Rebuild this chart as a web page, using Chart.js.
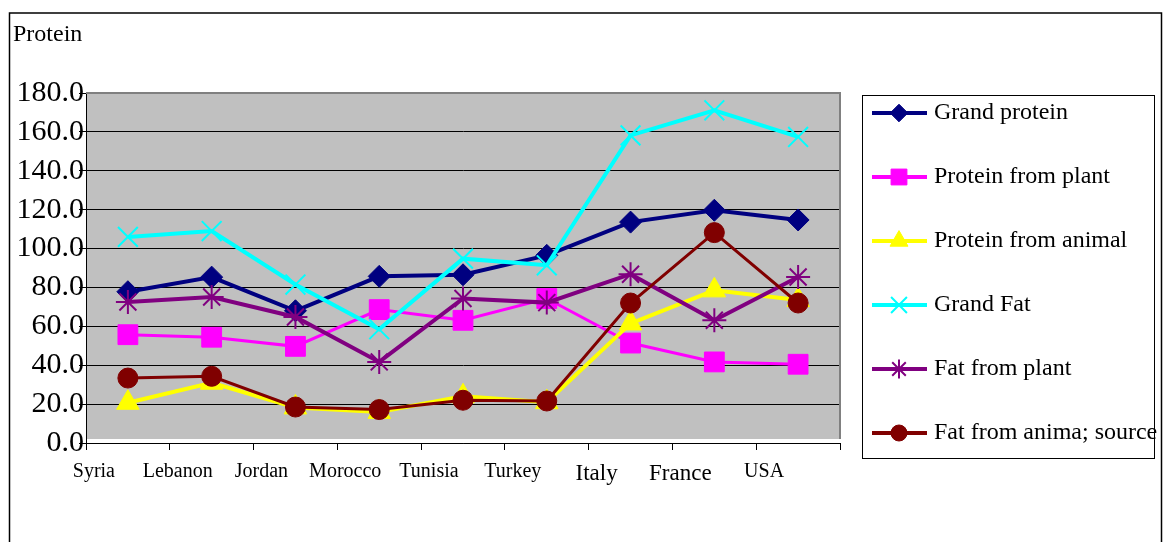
<!DOCTYPE html>
<html>
<head>
<meta charset="utf-8">
<title>Protein and fat supply</title>
<script src="https://cdn.jsdelivr.net/npm/chart.js@4/dist/chart.umd.min.js"></script>
<style>
  html, body { margin: 0; padding: 0; background: #fff; }
  #wrap { width: 1166px; height: 542px; position: relative; }
  canvas { display: block; }
</style>
</head>
<body>
<div id="wrap"><canvas id="chart" width="1166" height="542"></canvas></div>
<script>
// Categories and series
const countries = ['Syria', 'Lebanon', 'Jordan', 'Morocco', 'Tunisia', 'Turkey', 'Italy', 'France', 'USA'];
const grandProtein  = [77.8, 85.3, 68.0, 85.7, 86.5, 96.5, 113.6, 119.7, 114.7];
const proteinPlant  = [55.7, 54.4, 49.7, 68.6, 63.1, 74.3, 51.4, 41.7, 40.5];
const proteinAnimal = [20.7, 31.0, 18.3, 16.0, 24.0, 21.0, 61.5, 78.5, 73.5];
const grandFat      = [106.0, 109.0, 81.5, 58.5, 94.8, 91.4, 158.2, 171.1, 157.4];
const fatPlant      = [72.5, 75.1, 64.8, 41.7, 74.3, 72.2, 86.8, 63.1, 85.4];
const fatAnimal     = [33.4, 34.3, 18.5, 17.2, 22.0, 21.6, 72.0, 108.2, 72.0];
const seriesNames = ['Grand protein', 'Protein from plant', 'Protein from animal',
                     'Grand Fat', 'Fat from plant', 'Fat from anima; source'];
const axisTitle = 'Protein';
const yMin = 0, yMax = 180, yStep = 20;

const SERIF = '"Liberation Serif", "Times New Roman", serif';

const styles = [
  { color: '#000080', width: 4, point: 'rectRot',  radius: 11, pbw: 1 },
  { color: '#FF00FF', width: 3, point: 'rect',     radius: 14, pbw: 1 },
  { color: '#FFFF00', width: 4, point: 'triangle', radius: 13, pbw: 1 },
  { color: '#00FFFF', width: 4, point: 'crossRot', radius: 14, pbw: 2 },
  { color: '#800080', width: 4, point: 'star',     radius: 12, pbw: 2 },
  { color: '#800000', width: 3, point: 'circle',   radius: 10, pbw: 1 }
];
const seriesData = [grandProtein, proteinPlant, proteinAnimal, grandFat, fatPlant, fatAnimal];

const datasets = seriesData.map((vals, i) => ({
  label: seriesNames[i],
  data: vals,
  borderColor: styles[i].color,
  backgroundColor: styles[i].color,
  borderWidth: styles[i].width,
  pointStyle: styles[i].point,
  pointRadius: styles[i].radius,
  pointHoverRadius: styles[i].radius,
  pointBorderWidth: styles[i].pbw,
  pointBorderColor: styles[i].color,
  pointBackgroundColor: styles[i].color,
  tension: 0,
  // later series are painted over earlier ones
  order: seriesData.length - 1 - i
}));

// Gray plot background, frame, outer border and axis caption
const backdrop = {
  id: 'backdrop',
  beforeDraw(chart) {
    const { ctx, chartArea: a, scales } = chart;
    ctx.save();
    ctx.fillStyle = '#fff';
    ctx.fillRect(0, 0, chart.width, chart.height);
    const bottom = scales.y.getPixelForValue(yMin) - 4;
    ctx.fillStyle = '#C0C0C0';
    ctx.fillRect(a.left, a.top, a.right - a.left, bottom - a.top);
    ctx.restore();
  },
  beforeDatasetsDraw(chart) {
    const { ctx, chartArea: a, scales } = chart;
    const bottom = scales.y.getPixelForValue(yMin) - 4;
    ctx.save();
    ctx.strokeStyle = '#808080';
    ctx.lineWidth = 2;
    ctx.beginPath();
    ctx.moveTo(a.left, a.top);
    ctx.lineTo(a.right, a.top);
    ctx.lineTo(a.right, bottom);
    ctx.stroke();
    ctx.restore();
  },
  afterDraw(chart) {
    const { ctx } = chart;
    ctx.save();
    ctx.strokeStyle = '#000';
    ctx.lineWidth = 1.5;
    ctx.strokeRect(9.5, 13, 1152, 600);
    ctx.fillStyle = '#000';
    ctx.font = '24px ' + SERIF;
    ctx.textBaseline = 'middle';
    ctx.textAlign = 'left';
    ctx.fillText(axisTitle, 13, 35);
    ctx.restore();
  }
};

// Boxed legend with line-and-marker samples
const boxedLegend = {
  id: 'boxedLegend',
  afterDraw(chart) {
    const { ctx } = chart;
    const box = { x: 862.5, y: 95.5, w: 292, h: 363 };
    ctx.save();
    ctx.strokeStyle = '#000';
    ctx.lineWidth = 1;
    ctx.strokeRect(box.x, box.y, box.w, box.h);
    const rowTop = 113, rowGap = 64;
    chart.data.datasets.forEach((ds, i) => {
      const y = rowTop + i * rowGap;
      ctx.strokeStyle = ds.borderColor;
      ctx.lineWidth = 4;
      ctx.beginPath();
      ctx.moveTo(872, y);
      ctx.lineTo(927, y);
      ctx.stroke();
      ctx.fillStyle = ds.pointBackgroundColor;
      ctx.strokeStyle = ds.pointBorderColor;
      ctx.lineWidth = ds.pointBorderWidth;
      Chart.helpers.drawPoint(ctx, {
        pointStyle: ds.pointStyle,
        radius: ds.pointRadius * 0.8,
        rotation: 0,
        borderWidth: ds.pointBorderWidth
      }, 899, y);
      ctx.fillStyle = '#000';
      ctx.font = '24px ' + SERIF;
      ctx.textBaseline = 'middle';
      ctx.textAlign = 'left';
      ctx.fillText(ds.label, 934, y);
    });
    ctx.restore();
  }
};

new Chart(document.getElementById('chart'), {
  type: 'line',
  data: { labels: countries, datasets },
  plugins: [backdrop, boxedLegend],
  options: {
    responsive: false,
    animation: false,
    devicePixelRatio: 1,
    layout: { padding: { left: 0, top: 93, right: 326, bottom: 0 } },
    plugins: {
      legend: { display: false },
      title: { display: false },
      tooltip: { enabled: false }
    },
    scales: {
      x: {
        offset: true,
        afterFit(scale) { scale.height = 99; },
        grid: {
          offset: true,
          drawOnChartArea: false,
          drawTicks: true,
          tickLength: 7,
          color: '#000',
          lineWidth: 1
        },
        border: { display: true, color: '#000', width: 1 },
        ticks: {
          color: '#000',
          autoSkip: false,
          maxRotation: 0,
          padding: 10,
          labelOffset: -34,
          font: (c) => ({ family: SERIF, size: (c.index === 6 || c.index === 7) ? 23 : 20 })
        }
      },
      y: {
        min: yMin,
        max: yMax,
        afterFit(scale) { scale.width = 86; },
        grid: {
          drawTicks: true,
          tickLength: 7,
          color: (c) => (c.tick && c.tick.value === yMax) ? 'rgba(0,0,0,0)' : '#000',
          tickColor: '#000',
          lineWidth: 1
        },
        border: { display: true, color: '#000', width: 1 },
        ticks: {
          stepSize: yStep,
          autoSkip: false,
          color: '#000',
          padding: -5,
          font: { family: SERIF, size: 30 },
          callback: (v) => Number(v).toFixed(1)
        }
      }
    }
  }
});
</script>
</body>
</html>
